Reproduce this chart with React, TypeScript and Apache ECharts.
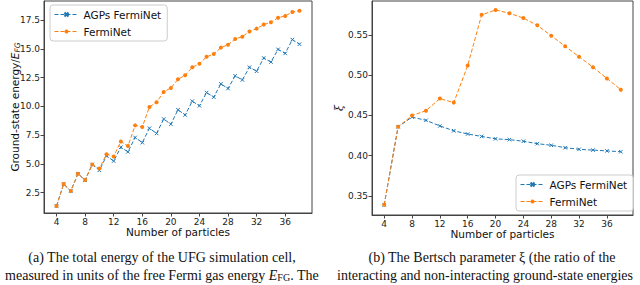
import React, { useEffect, useRef } from 'react';
import * as echarts from 'echarts';

const energyN = [4, 5, 6, 7, 8, 9, 10, 11, 12, 13, 14, 15, 16, 17, 18, 19, 20, 21, 22, 23, 24, 25, 26, 27, 28, 29, 30, 31, 32, 33, 34, 35, 36, 37, 38];
const agpsEnergy = [1.35, 3.25, 2.65, 4.15, 3.6, 4.95, 4.45, 5.7, 5.25, 6.45, 6.05, 7.3, 6.85, 8.1, 7.65, 8.9, 8.45, 9.7, 9.25, 10.45, 10.05, 11.2, 10.8, 11.95, 11.55, 12.65, 12.3, 13.4, 13.05, 14.2, 13.85, 14.95, 14.6, 15.8, 15.4];
const fermiEnergy = [1.35, 3.25, 2.65, 4.15, 3.6, 4.95, 4.6, 5.85, 5.65, 6.95, 6.55, 8.35, 8.2, 9.95, 10.35, 11.25, 11.6, 12.35, 12.7, 13.4, 13.7, 14.3, 14.55, 15.1, 15.35, 15.85, 16.05, 16.5, 16.75, 17.1, 17.3, 17.7, 17.85, 18.2, 18.3];

const xiN = [4, 6, 8, 10, 12, 14, 16, 18, 20, 22, 24, 26, 28, 30, 32, 34, 36, 38];
const agpsXi = [0.339, 0.436, 0.448, 0.444, 0.437, 0.431, 0.427, 0.424, 0.421, 0.42, 0.418, 0.415, 0.413, 0.41, 0.408, 0.407, 0.406, 0.405];
const fermiXi = [0.339, 0.436, 0.45, 0.456, 0.471, 0.466, 0.512, 0.575, 0.581, 0.577, 0.571, 0.562, 0.549, 0.536, 0.523, 0.51, 0.496, 0.482];

const xTicks = [4, 8, 12, 16, 20, 24, 28, 32, 36];
const energyTicks = [2.5, 5.0, 7.5, 10.0, 12.5, 15.0, 17.5];
const xiTicks = [0.35, 0.4, 0.45, 0.5, 0.55];

const seriesNames = ['AGPs FermiNet', 'FermiNet'];
const blue = '#1f77b4';
const orange = '#ff7f0e';
const FONT = 'DejaVu Sans';
const SERIF = 'Liberation Serif';
const CAP = 14;
const crossSymbol = 'path://M0,0L10,10M10,0L0,10';

export default function App() {
  const ref = useRef<HTMLDivElement>(null);
  useEffect(() => {
    if (!ref.current) return;
    const chart = echarts.init(ref.current, undefined, { renderer: 'svg' });
    const frame = { show: true, lineStyle: { color: '#444', width: 1 } };
    const xAxisCommon = (gridIndex: number) => ({
      type: 'value' as const,
      gridIndex,
      min: 2.25,
      max: 39.75,
      name: 'Number of particles',
      nameLocation: 'middle' as const,
      nameGap: 13,
      nameMoveOverlap: false,
      nameTextStyle: { fontFamily: FONT, fontSize: 10.5, color: '#111' },
      axisLine: frame,
      splitLine: { show: false },
      axisTick: { show: true, length: 3.5, inside: false, customValues: xTicks, lineStyle: { color: '#444' } },
      axisLabel: { customValues: xTicks, fontFamily: FONT, fontSize: 9, color: '#222', margin: 4 },
    });
    const seriesLine = (name: string, color: string, xi: number, ns: number[], vals: number[], cross: boolean) => ({
      name,
      type: 'line' as const,
      xAxisIndex: xi,
      yAxisIndex: xi,
      data: ns.map((n, i) => [n, vals[i]]),
      symbol: cross ? crossSymbol : 'circle',
      symbolSize: cross ? 3.5 : 4,
      showSymbol: true,
      lineStyle: { color, width: 1, type: 'dashed' as const },
      itemStyle: cross ? { color: 'none', borderColor: color, borderWidth: 1 } : { color, borderColor: color, borderWidth: 0 },
      z: name === 'FermiNet' ? 3 : 2,
    });
    const legendCommon = {
      orient: 'vertical' as const,
      data: seriesNames,
      backgroundColor: 'rgba(255,255,255,0.8)',
      borderColor: '#ccc',
      borderWidth: 1,
      borderRadius: 3,
      padding: [4, 6, 4, 4],
      itemWidth: 24,
      itemHeight: 5,
      itemGap: 6,
      lineStyle: { type: 'dashed', width: 1 },
      textStyle: { fontFamily: FONT, fontSize: 10.5, color: '#111' },
    };
    chart.setOption({
      animation: false,
      grid: [
        { left: 44, right: 328, top: 1, bottom: 72, show: true, borderColor: '#444', borderWidth: 1, backgroundColor: 'transparent' },
        { left: 372, right: 7, top: 1, bottom: 70, show: true, borderColor: '#444', borderWidth: 1, backgroundColor: 'transparent' },
      ],
      xAxis: [xAxisCommon(0), xAxisCommon(1)],
      yAxis: [
        {
          type: 'value',
          gridIndex: 0,
          min: 0.74,
          max: 19.15,
          name: 'Ground-state energy/{i|E}{s|FG}',
          nameLocation: 'middle',
          nameGap: 23,
          nameMoveOverlap: false,
          nameTextStyle: {
            fontFamily: FONT, fontSize: 10.5, color: '#111',
            rich: {
              i: { fontFamily: FONT, fontSize: 10.5, fontStyle: 'italic', color: '#111' },
              s: { fontFamily: FONT, fontSize: 7.5, fontStyle: 'italic', color: '#111', padding: [5, 0, 0, 0] },
            },
          },
          axisLine: frame,
          splitLine: { show: false },
          axisTick: { show: true, length: 3.5, customValues: energyTicks, lineStyle: { color: '#444' } },
          axisLabel: { customValues: energyTicks, fontFamily: FONT, fontSize: 9, color: '#222', margin: 4, formatter: (v: number) => v.toFixed(1) },
        },
        {
          type: 'value',
          gridIndex: 1,
          min: 0.3264,
          max: 0.5922,
          name: 'ξ',
          nameLocation: 'middle',
          nameGap: 27,
          nameMoveOverlap: false,
          nameTextStyle: { fontFamily: 'DejaVu Serif', fontSize: 11, fontStyle: 'italic', color: '#111' },
          axisLine: frame,
          splitLine: { show: false },
          axisTick: { show: true, length: 3.5, customValues: xiTicks, lineStyle: { color: '#444' } },
          axisLabel: { customValues: xiTicks, fontFamily: FONT, fontSize: 9, color: '#222', margin: 4, formatter: (v: number) => v.toFixed(2) },
        },
      ],
      legend: [
        { ...legendCommon, left: 50, top: 5 },
        { ...legendCommon, left: 516, top: 175 },
      ],
      series: [
        seriesLine('AGPs FermiNet', blue, 0, energyN, agpsEnergy, true),
        seriesLine('FermiNet', orange, 0, energyN, fermiEnergy, false),
        seriesLine('AGPs FermiNet', blue, 1, xiN, agpsXi, true),
        seriesLine('FermiNet', orange, 1, xiN, fermiXi, false),
      ],
      graphic: [
        { type: 'text', x: 162, y: 257, style: { text: '(a) The total energy of the UFG simulation cell,', fontFamily: SERIF, fontSize: CAP, fill: '#111', align: 'center', verticalAlign: 'middle' } },
        {
          type: 'text', x: 162, y: 275,
          style: {
            text: 'measured in units of the free Fermi gas energy {i|E}{s|FG}. The',
            fontFamily: SERIF, fontSize: CAP, fill: '#111', align: 'center', verticalAlign: 'middle',
            rich: {
              i: { fontFamily: SERIF, fontSize: CAP, fontStyle: 'italic', fill: '#111' },
              s: { fontFamily: SERIF, fontSize: 10, fill: '#111', padding: [5, 0, 0, 0] },
            },
          },
        },
        { type: 'text', x: 492, y: 257, style: { text: '(b) The Bertsch parameter ξ (the ratio of the', fontFamily: SERIF, fontSize: CAP, fill: '#111', align: 'center', verticalAlign: 'middle' } },
        { type: 'text', x: 485, y: 275, style: { text: 'interacting and non-interacting ground-state energies', fontFamily: SERIF, fontSize: CAP, fill: '#111', align: 'center', verticalAlign: 'middle' } },
      ],
    });
    return () => chart.dispose();
  }, []);
  return <div ref={ref} style={{ position: 'fixed', left: 0, top: 0, width: 640, height: 285, background: '#fff' }} />;
}
